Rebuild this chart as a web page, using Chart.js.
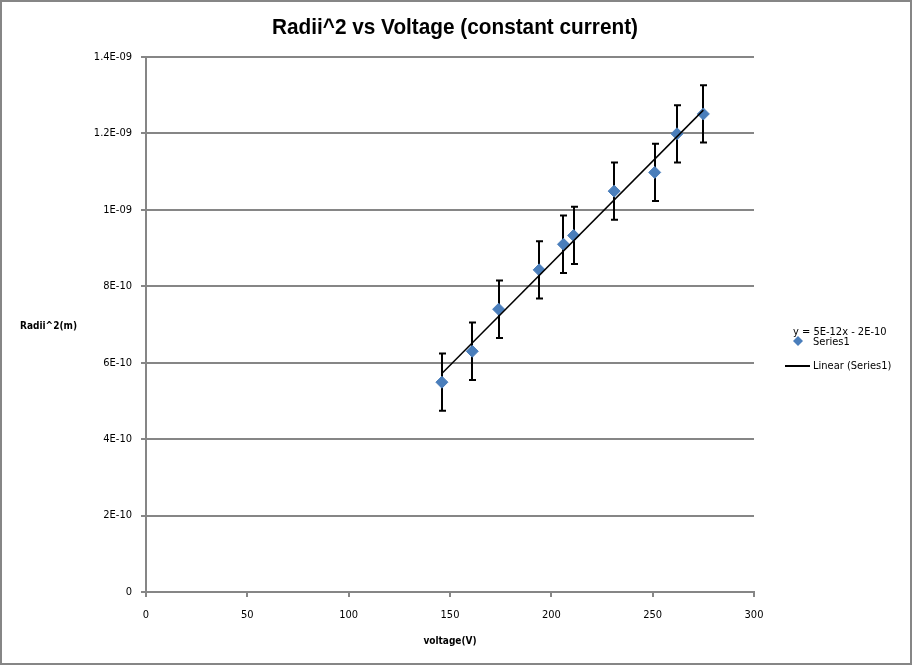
<!DOCTYPE html>
<html lang="en">
<head>
  <meta charset="UTF-8">
  <title>Radii^2 vs Voltage (constant current)</title>
  <style>
    body { margin: 0; background: #fff; }
    #wrap { width: 912px; height: 665px; }
  </style>
</head>
<body>
  <div id="wrap"><canvas id="chart" width="912" height="665"></canvas></div>

  <script src="https://cdn.jsdelivr.net/npm/chart.js"></script>
  <script>
    // values
    const voltage = [146, 161, 174, 194, 206, 211, 231, 251, 262, 275];
    const radiiSq = [5.49e-10, 6.30e-10, 7.40e-10, 8.43e-10, 9.10e-10, 9.33e-10, 1.049e-9, 1.098e-9, 1.199e-9, 1.251e-9];
    const radiiErr = [7.5e-11, 7.5e-11, 7.5e-11, 7.5e-11, 7.5e-11, 7.5e-11, 7.5e-11, 7.5e-11, 7.5e-11, 7.5e-11];
    // linear trendline end points
    const trendX = [146, 275];
    const trendY = [5.72e-10, 1.261e-9];
    const yTickLabels = ['0', '2E-10', '4E-10', '6E-10', '8E-10', '1E-09', '1.2E-09', '1.4E-09'];
    const xTickLabels = ['0', '50', '100', '150', '200', '250', '300'];
    const titleText = 'Radii^2 vs Voltage (constant current)';
    const equationText = 'y = 5E-12x - 2E-10';
    const seriesLabels = ['Series1', 'Linear (Series1)'];

    const GREY = '#868686';
    const BLUE = '#4A7EBB';
    const TICK_FONT = "'DejaVu Sans Condensed', 'DejaVu Sans', sans-serif";

    // error bars, title, y title, legend and outer frame
    const extras = {
      id: 'extras',
      beforeDatasetsDraw(chart) {
        const ctx = chart.ctx;
        const xs = chart.scales.x, ys = chart.scales.y;
        ctx.save();
        ctx.strokeStyle = '#000';
        ctx.lineWidth = 2;
        voltage.forEach((v, i) => {
          const x = Math.round(xs.getPixelForValue(v));
          const top = ys.getPixelForValue(radiiSq[i] + radiiErr[i]);
          const bot = ys.getPixelForValue(radiiSq[i] - radiiErr[i]);
          ctx.beginPath();
          ctx.moveTo(x, top); ctx.lineTo(x, bot);
          ctx.moveTo(x - 3, top); ctx.lineTo(x + 4, top);
          ctx.moveTo(x - 3, bot); ctx.lineTo(x + 4, bot);
          ctx.stroke();
        });
        ctx.restore();
      },
      afterDraw(chart) {
        const ctx = chart.ctx;
        ctx.save();
        // frame
        ctx.strokeStyle = GREY;
        ctx.lineWidth = 2;
        ctx.strokeRect(1, 1, 910, 663);

        // title, squeezed to the width it has in the picture
        ctx.fillStyle = '#000';
        ctx.font = "bold 22px 'Liberation Sans', sans-serif";
        ctx.textAlign = 'center';
        ctx.textBaseline = 'alphabetic';
        const w = ctx.measureText(titleText).width;
        ctx.save();
        ctx.translate(455, 34);
        ctx.scale(366 / w, 1);
        ctx.fillText(titleText, 0, 0);
        ctx.restore();

        // y axis title (horizontal, as in the picture)
        ctx.font = "bold 10px " + TICK_FONT;
        ctx.textAlign = 'left';
        ctx.textBaseline = 'middle';
        ctx.fillText('Radii^2(m)', 20, 326);

        // legend
        ctx.font = "11px " + TICK_FONT;
        ctx.fillText(equationText, 793, 332);
        ctx.fillText(seriesLabels[0], 813, 342);
        ctx.fillText(seriesLabels[1], 813, 366);
        ctx.fillStyle = BLUE;
        ctx.beginPath();
        ctx.moveTo(798, 336); ctx.lineTo(803, 341); ctx.lineTo(798, 346); ctx.lineTo(793, 341);
        ctx.closePath();
        ctx.fill();
        ctx.strokeStyle = '#000';
        ctx.lineWidth = 2;
        ctx.beginPath();
        ctx.moveTo(785, 366); ctx.lineTo(810, 366);
        ctx.stroke();
        ctx.restore();
      }
    };

    new Chart(document.getElementById('chart'), {
      type: 'scatter',
      data: {
        datasets: [
          {
            label: seriesLabels[1],
            data: trendX.map((x, i) => ({ x: x, y: trendY[i] })),
            showLine: true,
            borderColor: '#000',
            borderWidth: 1.5,
            pointRadius: 0,
            order: 0
          },
          {
            label: seriesLabels[0],
            data: voltage.map((x, i) => ({ x: x, y: radiiSq[i] })),
            pointStyle: 'rectRot',
            pointRadius: 6,
            backgroundColor: BLUE,
            borderColor: BLUE,
            borderWidth: 1,
            order: 1
          }
        ]
      },
      options: {
        responsive: false,
        animation: false,
        layout: { padding: { left: 0, top: 57, right: 158, bottom: 0 } },
        plugins: {
          legend: { display: false },
          title: { display: false },
          tooltip: { enabled: false }
        },
        scales: {
          x: {
            type: 'linear',
            min: 0,
            max: 300,
            afterFit(scale) { scale.height = 73; },
            ticks: {
              stepSize: 50,
              padding: 12,
              color: '#000',
              font: { family: TICK_FONT, size: 11 },
              callback: (v, i) => xTickLabels[i]
            },
            grid: { drawOnChartArea: false, drawTicks: true, tickLength: 5, color: GREY, lineWidth: 2 },
            border: { color: GREY, width: 2 },
            title: {
              display: true,
              text: 'voltage(V)',
              color: '#000',
              font: { family: TICK_FONT, size: 10, weight: 'bold' },
              padding: { top: 0, bottom: 18 }
            }
          },
          y: {
            min: 0,
            max: 1.4e-9,
            afterFit(scale) { scale.width = 146; },
            ticks: {
              stepSize: 2e-10,
              padding: 9,
              color: '#000',
              font: { family: TICK_FONT, size: 11 },
              callback: (v, i) => yTickLabels[i]
            },
            grid: { color: GREY, lineWidth: 2, tickLength: 5 },
            border: { color: GREY, width: 2 }
          }
        }
      },
      plugins: [extras]
    });
  </script>
</body>
</html>
